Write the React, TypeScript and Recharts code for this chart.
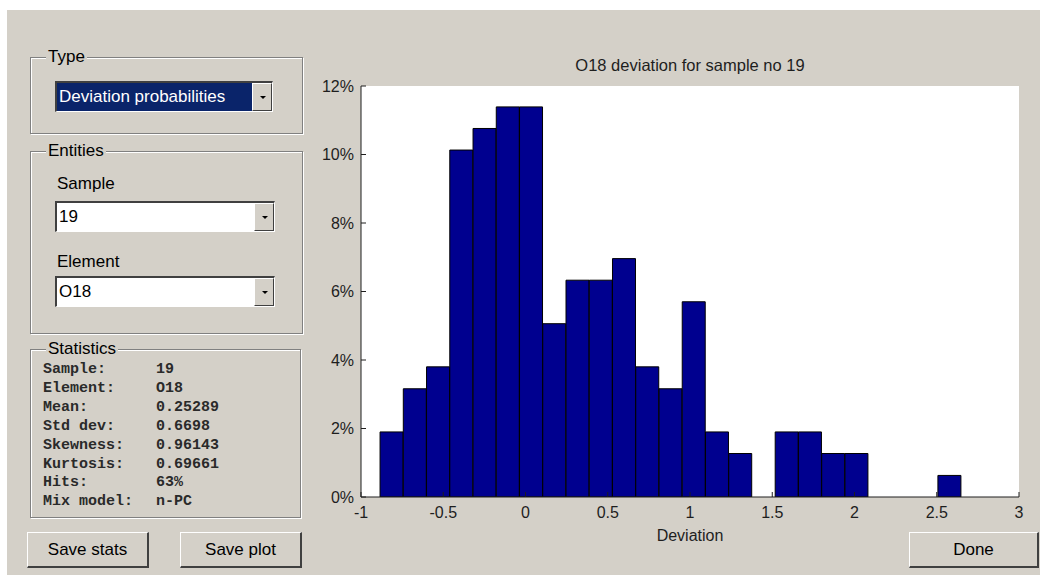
import { BarChart, Bar, XAxis, YAxis } from 'recharts';

// histogram bins (bin centres on the Deviation axis)
const binCentres = [
  -0.8135, -0.6722, -0.5309, -0.3896, -0.2483, -0.107, 0.0343, 0.1756, 0.3169, 0.4582,
  0.5995, 0.7408, 0.8821, 1.0234, 1.1647, 1.306, 1.4473, 1.5886, 1.7299, 1.8712,
  2.0125, 2.1538, 2.2951, 2.4364, 2.5777,
];
// share of samples per bin, in %
const binShares = [
  1.90, 3.16, 3.80, 10.13, 10.76, 11.39, 11.39, 5.06, 6.33, 6.33,
  6.96, 3.80, 3.16, 5.70, 1.90, 1.27, 0, 1.90, 1.90, 1.27,
  1.27, 0, 0, 0, 0.63,
];
const xTicks = [-1, -0.5, 0, 0.5, 1, 1.5, 2, 2.5, 3];
const yTicks = [0, 2, 4, 6, 8, 10, 12];

const statLabels = ['Sample:', 'Element:', 'Mean:', 'Std dev:', 'Skewness:', 'Kurtosis:', 'Hits:', 'Mix model:'];
const statValues = ['19', 'O18', '0.25289', '0.6698', '0.96143', '0.69661', '63%', 'n-PC'];

const data = binCentres.map((x, i) => ({ x, share: binShares[i] }));

const BG = '#d4d0c8';
const INK = '#1e1e1e';
const SANS = '"Liberation Sans", Arial, sans-serif';
const PLOT_W = 658;
const TICK = 5;
const GAP = 9;

const BottomTick = (props: any) => {
  const { x, y, payload } = props;
  return (
    <g>
      <line x1={x} x2={x} y1={y - GAP} y2={y - GAP - TICK} stroke={INK} />
      <text x={x} y={y} dy="0.72em" textAnchor="middle" fill={INK} fontSize={16} fontFamily={SANS}>
        {payload.value}
      </text>
    </g>
  );
};

const TopTick = (props: any) => {
  const { x, y } = props;
  return <line x1={x} x2={x} y1={y} y2={y + TICK} stroke={INK} />;
};

const LeftTick = (props: any) => {
  const { x, y, payload } = props;
  return (
    <g>
      <line x1={x + 7} x2={x + 7 + TICK} y1={y} y2={y} stroke={INK} />
      <text x={x} y={y} dy="0.36em" textAnchor="end" fill={INK} fontSize={16} fontFamily={SANS}>
        {`${payload.value}%`}
      </text>
    </g>
  );
};

const RightTick = (props: any) => {
  const { x, y } = props;
  return <line x1={x} x2={x - TICK} y1={y} y2={y} stroke={INK} />;
};

function GroupBox({ title, left, top, width, height, children }: any) {
  return (
    <div
      style={{
        position: 'absolute', left, top, width, height,
        border: '1px solid #808080',
        boxShadow: 'inset 1px 1px 0 #fff, 1px 1px 0 #fff',
      }}
    >
      <div style={{ position: 'absolute', left: 15, top: -11, padding: '0 2px', background: BG, fontSize: 17, lineHeight: '20px' }}>
        {title}
      </div>
      {children}
    </div>
  );
}

function Combo({ left, top, width, text, selected }: any) {
  return (
    <div
      style={{
        position: 'absolute', left, top, width, height: 31, boxSizing: 'border-box',
        background: '#fff',
        borderTop: '2px solid #404040', borderLeft: '2px solid #404040',
        borderBottom: '1px solid #fff', borderRight: '1px solid #fff',
      }}
    >
      <div
        style={{
          position: 'absolute', left: 0, top: 0, bottom: 0, right: 20,
          background: selected ? '#0a246a' : '#fff',
          color: selected ? '#fff' : '#000',
          fontSize: 17, lineHeight: '28px', paddingLeft: 2,
        }}
      >
        {text}
      </div>
      <div
        style={{
          position: 'absolute', right: 0, top: 0, bottom: 0, width: 20, boxSizing: 'border-box',
          background: BG,
          borderTop: '1px solid #fff', borderLeft: '1px solid #fff',
          borderBottom: '1px solid #404040', borderRight: '1px solid #404040',
        }}
      >
        <div
          style={{
            position: 'absolute', left: 7, top: 12, width: 0, height: 0,
            borderLeft: '3px solid transparent', borderRight: '3px solid transparent', borderTop: '3px solid #000',
          }}
        />
      </div>
    </div>
  );
}

function Button({ left, top, width, label }: any) {
  return (
    <div
      style={{
        position: 'absolute', left, top, width, height: 36, boxSizing: 'border-box',
        background: BG,
        borderTop: '1px solid #fff', borderLeft: '1px solid #fff',
        borderBottom: '2px solid #404040', borderRight: '2px solid #404040',
        textAlign: 'center', fontSize: 17, lineHeight: '33px', color: '#000',
      }}
    >
      {label}
    </div>
  );
}

export default function App() {
  return (
    <div style={{ position: 'absolute', left: 0, top: 0, width: 1040, height: 576, background: '#fff', fontFamily: SANS, color: '#000', overflow: 'hidden' }}>
      <div style={{ position: 'absolute', left: 7, top: 10, width: 1033, height: 565, background: BG }} />

      <GroupBox title="Type" left={30} top={57} width={271} height={75}>
        <Combo left={24} top={23} width={218} text="Deviation probabilities" selected />
      </GroupBox>

      <GroupBox title="Entities" left={30} top={151} width={271} height={181}>
        <div style={{ position: 'absolute', left: 26, top: 22, fontSize: 17 }}>Sample</div>
        <Combo left={24} top={49} width={220} text="19" />
        <div style={{ position: 'absolute', left: 26, top: 100, fontSize: 17 }}>Element</div>
        <Combo left={24} top={124} width={220} text="O18" />
      </GroupBox>

      <GroupBox title="Statistics" left={30} top={349} width={269} height={167}>
        <div style={{ position: 'absolute', left: 12, top: 11, fontFamily: '"Liberation Mono", "Courier New", monospace', fontSize: 15, lineHeight: '18.9px', fontWeight: 'bold', color: '#2a2a2a' }}>
          {statLabels.map((l, i) => (
            <div key={l} style={{ display: 'flex' }}>
              <span style={{ width: 113 }}>{l}</span>
              <span>{statValues[i]}</span>
            </div>
          ))}
        </div>
      </GroupBox>

      <Button left={27} top={532} width={122} label="Save stats" />
      <Button left={180} top={532} width={122} label="Save plot" />
      <Button left={909} top={532} width={130} label="Done" />

      <div style={{ position: 'absolute', left: 361, width: PLOT_W, top: 56, textAlign: 'center', fontSize: 16.5, color: INK }}>
        O18 deviation for sample no 19
      </div>
      <div style={{ position: 'absolute', left: 361, width: PLOT_W, top: 527, textAlign: 'center', fontSize: 16, color: INK }}>
        Deviation
      </div>

      <div style={{ position: 'absolute', left: 300, top: 50 }}>
        <BarChart width={740} height={520} data={data} barCategoryGap={0} barGap={0} margin={{ top: 36, right: 21, left: 11, bottom: 43 }}>
          <rect x={361 - 300} y={36} width={PLOT_W} height={411} fill="#fff" />
          <XAxis
            dataKey="x" type="number" domain={[-1, 3]} ticks={xTicks} allowDataOverflow
            height={30} tickSize={0} tickMargin={GAP} tickLine={false}
            axisLine={{ stroke: INK }} tick={<BottomTick />} interval={0}
          />
          <XAxis
            xAxisId="top" orientation="top" dataKey="x" type="number" domain={[-1, 3]} ticks={xTicks} allowDataOverflow
            height={0} tickSize={0} tickMargin={0} tickLine={false}
            axisLine={{ stroke: INK }} tick={<TopTick />} interval={0}
          />
          <YAxis
            type="number" domain={[0, 12]} ticks={yTicks} allowDataOverflow
            width={50} tickSize={0} tickMargin={7} tickLine={false}
            axisLine={{ stroke: INK }} tick={<LeftTick />} interval={0}
          />
          <YAxis
            yAxisId="right" orientation="right" type="number" domain={[0, 12]} ticks={yTicks} allowDataOverflow
            width={0} tickSize={0} tickMargin={0} tickLine={false}
            axisLine={{ stroke: INK }} tick={<RightTick />} interval={0}
          />
          <Bar
            dataKey="share" fill="#00008f" stroke="#000" strokeWidth={1}
            isAnimationActive={false}
          />
        </BarChart>
      </div>
    </div>
  );
}
